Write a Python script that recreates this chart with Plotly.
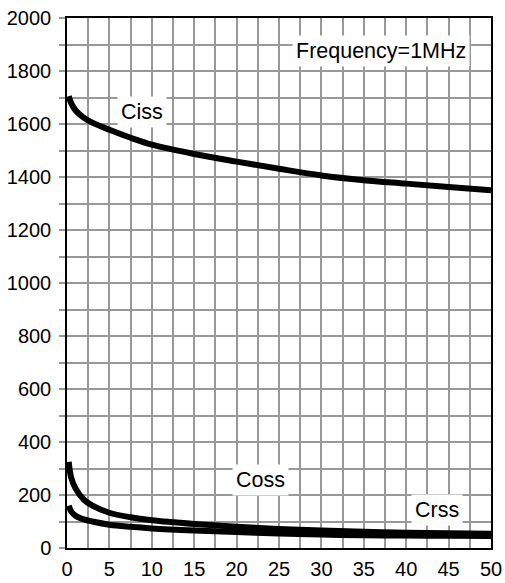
import plotly.graph_objects as go

vds = [0.2, 0.5, 1, 2, 3, 5, 7.5, 10, 15, 20, 25, 30, 35, 40, 45, 50]
ciss = [1705, 1678, 1652, 1623, 1605, 1578, 1548, 1522, 1487, 1458, 1431, 1406, 1388, 1375, 1362, 1350]
coss = [325, 265, 225, 182, 160, 133, 116, 105, 91, 80, 72, 66, 61, 58, 56, 54]
crss = [160, 138, 122, 108, 100, 88, 80, 74, 66, 60, 55, 51, 48, 47, 46, 45]

labels = [("Ciss", 8.85, 1645), ("Frequency=1MHz", 37.0, 1877), ("Coss", 22.8, 257), ("Crss", 43.6, 143)]

fig = go.Figure()
for ys in (ciss, coss, crss):
    fig.add_trace(go.Scatter(x=vds, y=ys, mode="lines", line=dict(color="black", width=6, shape="spline"),
                             showlegend=False, hoverinfo="skip"))

for text, x, y in labels:
    fig.add_annotation(x=x, y=y, text=text, showarrow=False, bgcolor="white",
                       font=dict(family="Liberation Sans, Arial", size=21.5, color="black"), borderpad=3)

fig.update_layout(
    width=505, height=583, margin=dict(l=67, r=14, t=18, b=35),
    paper_bgcolor="white", plot_bgcolor="white",
    font=dict(family="Liberation Sans, Arial", size=20, color="black"),
)
grid = "#999999"
fig.update_xaxes(range=[0, 50], dtick=5, tick0=0, showgrid=True, gridcolor=grid, gridwidth=1.5,
                 minor=dict(dtick=2.5, showgrid=True, gridcolor=grid, gridwidth=1.5),
                 showline=True, linecolor="black", linewidth=1.5, mirror=True, ticks="", zeroline=False,
                 automargin=False, ticklabelstandoff=2)
fig.update_yaxes(range=[0, 2000], dtick=200, tick0=0, showgrid=True, gridcolor=grid, gridwidth=1.5,
                 minor=dict(dtick=100, showgrid=True, gridcolor=grid, gridwidth=1.5,
                            ticks="outside", ticklen=6, tickcolor=grid, tickwidth=1.5),
                 showline=True, linecolor="black", linewidth=1.5, mirror=True,
                 ticks="outside", ticklen=6, tickcolor=grid, tickwidth=1.5, zeroline=False,
                 automargin=False, ticklabelstandoff=4)

fig.write_html("out.html", config={"displayModeBar": False},
               post_script="document.body.style.margin='0';document.body.style.overflow='hidden';")
